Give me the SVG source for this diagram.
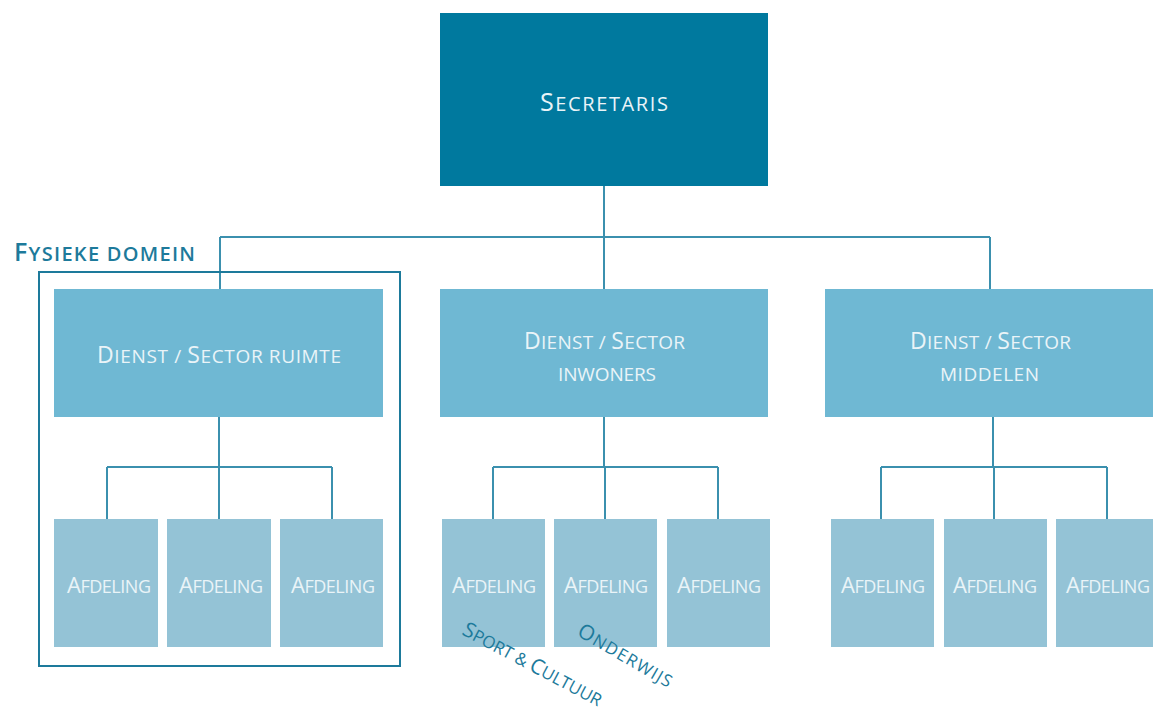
<svg xmlns="http://www.w3.org/2000/svg" width="1153" height="711" viewBox="0 0 1153 711">
  <style>
    text { font-family: "Open Sans", "Liberation Sans", sans-serif; }
    .light { fill: #eaf4f8; font-weight: 500; }
    .dark { fill: #1d7a9b; font-weight: 600; }
    .top { fill: #00799e; }
    .dienst { fill: #6fb8d3; }
    .afd { fill: #94c3d6; }
    .conn { fill: none; stroke: #3b90ae; stroke-width: 2; }
    .a-big { font-size: 22px; }
    .a-sm { font-size: 18px; }
    .d-big { font-size: 23px; }
    .d-sm { font-size: 19px; }
  </style>
  <rect width="1153" height="711" fill="#ffffff"/>

  <!-- connectors -->
  <g id="connectors" class="conn">
    <path d="M604 186V237M220 237H990M220 237V289M604 237V289M990 237V289"/>
    <path d="M219 417V467M107 467H332M107 467V519M219 467V519M332 467V519"/>
    <path d="M604 417V467M493 467H718M493 467V519M605 467V519M718 467V519"/>
    <path d="M993 417V467M881 467H1107M881 467V519M994 467V519M1107 467V519"/>
  </g>

  <!-- physical domain frame -->
  <g id="fysieke-domein">
    <rect x="39" y="272" width="361" height="394" fill="none" stroke="#1d7a9b" stroke-width="2"/>
    <text class="dark" x="14" y="261" textLength="181" lengthAdjust="spacing"><tspan font-size="25">F</tspan><tspan font-size="20">YSIEKE DOMEIN</tspan></text>
  </g>

  <g id="secretaris">
    <rect class="top" x="440" y="13" width="328" height="173"/>
    <text class="light" x="540" y="111" textLength="128" lengthAdjust="spacing"><tspan font-size="25">S</tspan><tspan font-size="20">ECRETARIS</tspan></text>
  </g>

  <g id="dienst-ruimte">
    <rect class="dienst" x="54" y="289" width="329" height="128"/>
    <text class="light" x="97" y="363" textLength="244" lengthAdjust="spacing"><tspan class="d-big">D</tspan><tspan class="d-sm">IENST / </tspan><tspan class="d-big">S</tspan><tspan class="d-sm">ECTOR RUIMTE</tspan></text>
  </g>
  <g id="dienst-inwoners">
    <rect class="dienst" x="440" y="289" width="328" height="128"/>
    <text class="light" x="524" y="349" textLength="161" lengthAdjust="spacing"><tspan class="d-big">D</tspan><tspan class="d-sm">IENST / </tspan><tspan class="d-big">S</tspan><tspan class="d-sm">ECTOR</tspan></text>
    <text class="light d-sm" x="558" y="381" textLength="98" lengthAdjust="spacing">INWONERS</text>
  </g>
  <g id="dienst-middelen">
    <rect class="dienst" x="825" y="289" width="330" height="128"/>
    <text class="light" x="910" y="349" textLength="161" lengthAdjust="spacing"><tspan class="d-big">D</tspan><tspan class="d-sm">IENST / </tspan><tspan class="d-big">S</tspan><tspan class="d-sm">ECTOR</tspan></text>
    <text class="light d-sm" x="940" y="381" textLength="99" lengthAdjust="spacing">MIDDELEN</text>
  </g>

  <g id="afd-1"><rect class="afd" x="54" y="519" width="104" height="128"/><text class="light" x="67" y="593" textLength="84" lengthAdjust="spacing"><tspan class="a-big">A</tspan><tspan class="a-sm">FDELING</tspan></text></g>
  <g id="afd-2"><rect class="afd" x="167" y="519" width="104" height="128"/><text class="light" x="179" y="593" textLength="84" lengthAdjust="spacing"><tspan class="a-big">A</tspan><tspan class="a-sm">FDELING</tspan></text></g>
  <g id="afd-3"><rect class="afd" x="280" y="519" width="103" height="128"/><text class="light" x="291" y="593" textLength="84" lengthAdjust="spacing"><tspan class="a-big">A</tspan><tspan class="a-sm">FDELING</tspan></text></g>
  <g id="afd-4"><rect class="afd" x="442" y="519" width="103" height="128"/><text class="light" x="452" y="593" textLength="84" lengthAdjust="spacing"><tspan class="a-big">A</tspan><tspan class="a-sm">FDELING</tspan></text></g>
  <g id="afd-5"><rect class="afd" x="554" y="519" width="103" height="128"/><text class="light" x="564" y="593" textLength="84" lengthAdjust="spacing"><tspan class="a-big">A</tspan><tspan class="a-sm">FDELING</tspan></text></g>
  <g id="afd-6"><rect class="afd" x="667" y="519" width="103" height="128"/><text class="light" x="677" y="593" textLength="84" lengthAdjust="spacing"><tspan class="a-big">A</tspan><tspan class="a-sm">FDELING</tspan></text></g>
  <g id="afd-7"><rect class="afd" x="831" y="519" width="103" height="128"/><text class="light" x="841" y="593" textLength="84" lengthAdjust="spacing"><tspan class="a-big">A</tspan><tspan class="a-sm">FDELING</tspan></text></g>
  <g id="afd-8"><rect class="afd" x="944" y="519" width="103" height="128"/><text class="light" x="953" y="593" textLength="84" lengthAdjust="spacing"><tspan class="a-big">A</tspan><tspan class="a-sm">FDELING</tspan></text></g>
  <g id="afd-9"><rect class="afd" x="1056" y="519" width="103" height="128"/><text class="light" x="1066" y="593" textLength="84" lengthAdjust="spacing"><tspan class="a-big">A</tspan><tspan class="a-sm">FDELING</tspan></text></g>

  <!-- tilted annotations -->
  <g id="annotaties">
    <text class="dark" style="font-weight:500" transform="translate(461 634) rotate(28)" textLength="155" lengthAdjust="spacing"><tspan font-size="21">S</tspan><tspan font-size="17">PORT &amp; </tspan><tspan font-size="21">C</tspan><tspan font-size="17">ULTUUR</tspan></text>
    <text class="dark" style="font-weight:500" transform="translate(576 635) rotate(30)" textLength="106" lengthAdjust="spacing"><tspan font-size="21">O</tspan><tspan font-size="17">NDERWIJS</tspan></text>
  </g>
</svg>
